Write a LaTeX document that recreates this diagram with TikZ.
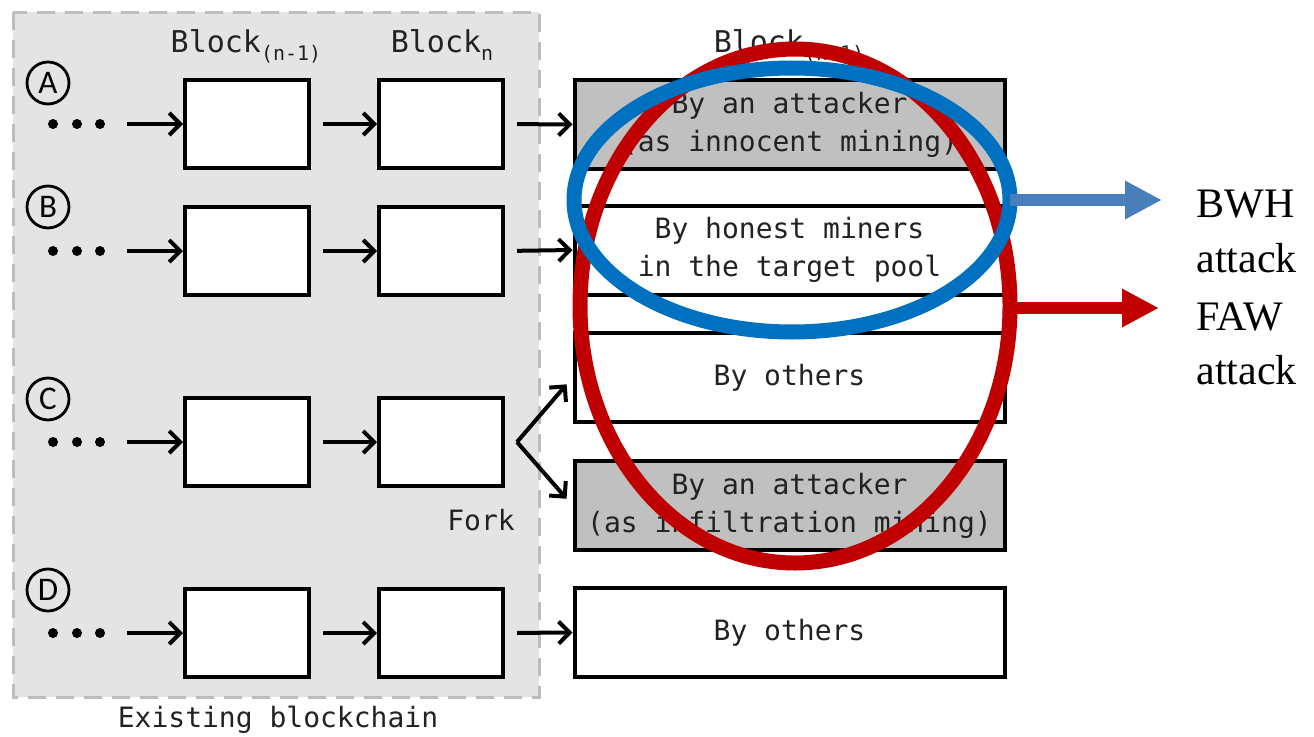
\documentclass[tikz,border=0pt]{standalone}
\usepackage{fontspec}
\setmainfont{Liberation Serif}
\setmonofont{DejaVu Sans Mono}
\newfontfamily\tagfont{Carlito}
\usetikzlibrary{arrows.meta,shapes.geometric}

\definecolor{chainBg}{HTML}{E4E4E4}
\definecolor{chainEdge}{HTML}{BDBDBD}
\definecolor{minedGray}{HTML}{C0C0C0}
\definecolor{inkGray}{HTML}{222222}
\definecolor{ringBlue}{HTML}{0070C0}
\definecolor{ringRed}{HTML}{C00000}
\definecolor{pointerBlue}{HTML}{4A7EBB}

\begin{document}
\begin{tikzpicture}[x=1pt,y=-1pt,
  mono/.style={font=\ttfamily\fontsize{28}{38}\selectfont, text=inkGray},
  title/.style={font=\ttfamily\fontsize{30}{30}\selectfont, text=inkGray, anchor=base},
  blk/.style={draw, line width=4pt, fill=white, minimum width=124pt,
              minimum height=88pt, inner sep=0pt},
  slot/.style={draw, line width=4pt, fill=white, minimum width=430pt,
               minimum height=89pt, inner sep=0pt, align=center, mono},
  slotatk/.style={slot, fill=minedGray},
  tag/.style={draw, circle, line width=2.8pt, minimum size=42pt, inner sep=0pt,
              font=\tagfont\fontsize{33}{33}\selectfont},
  link/.style={line width=4pt, -{Straight Barb[length=11pt,width=22pt]}},
  ring/.style={ellipse, draw, line width=15pt, inner sep=0pt, outer sep=0pt},
  pointer/.style={line width=12pt, -{Triangle[length=37pt,width=36pt]}},
  attacklabel/.style={font=\fontsize{42}{42}\selectfont, anchor=base west},
]
\useasboundingbox (0,0) rectangle (1314,736);

% existing blockchain area
\draw[fill=chainBg, draw=chainEdge, line width=3pt, dash pattern=on 18pt off 10pt]
  (13,12) rectangle (539,697);
\node[font=\ttfamily\fontsize{28}{28}\selectfont, text=inkGray, anchor=base] (chainlbl)
  at (278,727) {Existing blockchain};

% column titles
\node[title] (t1) at (246,52) {Block\raisebox{-8pt}{\fontsize{20}{20}\selectfont(n-1)}};
\node[title] (t2) at (442,52) {Block\raisebox{-8pt}{\fontsize{20}{20}\selectfont n}};
\node[title] (t3) at (789,52) {Block\raisebox{-8pt}{\fontsize{20}{20}\selectfont(n+1)}};

% scenario tags
\node[tag] (tagA) at (48,83)  {A};
\node[tag] (tagB) at (48,207) {B};
\node[tag] (tagC) at (48,399) {C};
\node[tag] (tagD) at (48,590) {D};

% leading dots and chain start points
\foreach \yy in {124,251,442,633} {
  \fill[black] (53,\yy) circle (5pt);
  \fill[black] (77,\yy) circle (5pt);
  \fill[black] (100,\yy) circle (5pt);
}
\coordinate (sA) at (127,124);
\coordinate (sB) at (127,251);
\coordinate (sC) at (127,442);
\coordinate (sD) at (127,633);

% chain blocks
\node[blk] (A1) at (247,124) {};  \node[blk] (A2) at (441,124) {};
\node[blk] (B1) at (247,251) {};  \node[blk] (B2) at (441,251) {};
\node[blk] (C1) at (247,442) {};  \node[blk] (C2) at (441,442) {};
\node[blk] (D1) at (247,633) {};  \node[blk] (D2) at (441,633) {};

% next blocks
\node[slotatk] (nA) at (789.5,124.5) {By an attacker\\(as innocent mining)};
\node[slot]    (nB) at (789.5,250)   {By honest miners\\in the target pool};
\node[slot]    (nC) at (789.5,377.5) {By others};
\node[slotatk] (nF) at (789.5,505.5) {By an attacker\\(as infiltration mining)};
\node[slot]    (nD) at (789.5,632.5) {By others};

% links
\foreach \r in {A,B,C,D} {
  \draw[link] (s\r) -- (\r1.west);
  \draw[link, shorten <=12pt] (\r1.east) -- (\r2.west);
}
\draw[link, shorten <=12pt] (A2.east) -- (nA.west);
\draw[link, shorten <=12pt] (B2.east) -- (nB.west);
\draw[link, shorten <=12pt] (D2.east) -- (nD.west);

% fork
\coordinate (fork) at (517,442);
\draw[link, shorten >=9pt] (fork) -- (nC.west);
\draw[link, shorten >=9pt] (fork) -- (nF.west);
\node[font=\ttfamily\fontsize{28}{28}\selectfont, text=inkGray, anchor=base] (forklbl)
  at (481,530) {Fork};

% attack scopes
\node[ring, draw=ringRed, minimum width=430pt, minimum height=514pt] (fawring) at (795,306) {};
\node[ring, draw=ringBlue, minimum width=436pt, minimum height=264pt] (bwhring) at (792,200) {};

% attack labels
\node[attacklabel] (bwh)  at (1193,217) {BWH};
\node[attacklabel] (bwh2) at (1193,272) {attack};
\node[attacklabel] (faw)  at (1193,330) {FAW};
\node[attacklabel] (faw2) at (1193,384) {attack};

\draw[pointer, draw=pointerBlue, fill=pointerBlue, shorten >=31pt]
  (bwhring.east) -- (bwhring.east -| bwh.west);
\draw[pointer, draw=ringRed, fill=ringRed, shorten >=34pt]
  ([yshift=-2pt]fawring.east) -- ([yshift=-2pt]fawring.east -| faw.west);
\end{tikzpicture}
\end{document}
